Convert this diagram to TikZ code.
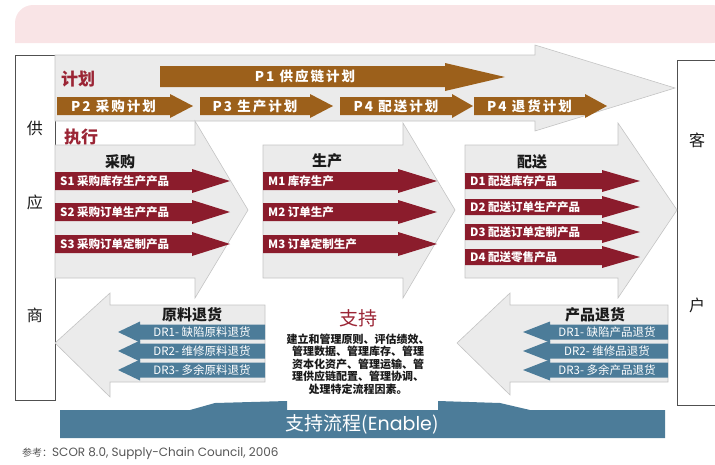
\documentclass[tikz,border=0pt]{standalone}
\usepackage{fontspec}
\setmainfont{Noto Sans CJK SC}
\newfontfamily\latinfont{Poppins}
\usepackage{xcolor}
\definecolor{scorPink}{HTML}{F9E4E6}
\definecolor{scorGray}{HTML}{EBEBEB}
\definecolor{scorEdge}{HTML}{C4C4C4}
\definecolor{scorFrame}{HTML}{505050}
\definecolor{scorBrown}{HTML}{9C601B}
\definecolor{scorRed}{HTML}{8B1C2C}
\definecolor{scorBlue}{HTML}{4C7C99}
\definecolor{scorTitle}{HTML}{9B2535}
\definecolor{scorDark}{HTML}{1A1A1A}
\definecolor{scorNote}{HTML}{555555}
\usepackage{tikz}

\begin{document}
\begin{tikzpicture}[x=1pt, y=-1pt,
  grayarrow/.style={fill=scorGray, draw=scorEdge, line width=0.6pt},
  planarrow/.style={fill=scorBrown},
  execarrow/.style={fill=scorRed},
  returnarrow/.style={fill=scorBlue},
  sidebox/.style={draw=scorFrame, line width=0.8pt, fill=white},
  sidechar/.style={font=\fontsize{16}{16}\selectfont, text=scorDark},
  plantext/.style={text=white, inner sep=0pt,
    font=\bfseries\fontsize{13.5}{13.5}\selectfont\addfontfeatures{LetterSpace=15}},
  steptext/.style={text=white, anchor=west, inner sep=0pt,
    font=\bfseries\fontsize{11.5}{11.5}\selectfont},
  returntext/.style={text=white, inner sep=0pt, font=\fontsize{11.5}{11.5}\selectfont},
  header/.style={font=\bfseries\fontsize{15}{15}\selectfont, text=scorDark},
  rowtitle/.style={font=\bfseries\fontsize{17}{17}\selectfont, text=scorTitle}
]
  \useasboundingbox (0,0) rectangle (715,464);

  % Band on top
  \fill[scorPink, rounded corners=18pt] (15,43) -- (15,5) -- (730,5) -- (730,43) [sharp corners] -- cycle;

  % Supplier and customer
  \draw[sidebox] (15,55) rectangle (55,400);
  \draw[sidebox] (677,60) rectangle (730,405);
  \node[sidechar] (sup1) at (35,128) {供};
  \node[sidechar] (sup2) at (35,202) {应};
  \node[sidechar] (sup3) at (35,315) {商};
  \node[sidechar] (cus1) at (697,140) {客};
  \node[sidechar] (cus2) at (697,305) {户};

  % Plan
  \filldraw[grayarrow] (55,55) -- (535,55) -- (535,45) -- (675,88) -- (535,131) -- (535,121) -- (55,121) -- cycle;
  \node[rowtitle] (plan) at (78,79) {计划};
  \fill[planarrow] (160,66) -- (445,66) -- (445,63) -- (505,77) -- (445,91) -- (445,87) -- (160,87) -- cycle;
  \node[plantext] (p1) at (305,76.5) {P1 供应链计划};
  \foreach \i/\xa/\xb/\xt/\txt in {2/57/170/193/P2 采购计划, 3/200/310/333/P3 生产计划,
      4/340/452/473/P4 配送计划, 5/474/585/607/P4 退货计划} {
    \fill[planarrow] (\xa,97) -- (\xb,97) -- (\xb,94) -- (\xt,106) -- (\xb,118) -- (\xb,115) -- (\xa,115) -- cycle;
    \node[plantext] (p\i) at ({(\xa+\xb)/2},106) {\txt};
  }

  % Execute
  \node[rowtitle] (exec) at (81,137) {执行};
  \filldraw[grayarrow] (55,145) -- (195,145) -- (195,121) -- (248,210) -- (195,298) -- (195,278) -- (55,278) -- cycle;
  \filldraw[grayarrow] (263,145) -- (403,145) -- (403,123) -- (455,210) -- (403,298) -- (403,278) -- (263,278) -- cycle;
  \filldraw[grayarrow] (465,145) -- (618,145) -- (618,123) -- (677,210) -- (618,298) -- (618,278) -- (465,278) -- cycle;
  \node[header] (source) at (120,162) {采购};
  \node[header] (make) at (327,161) {生产};
  \node[header] (deliver) at (532,162) {配送};
  \foreach \i/\y/\txt in {1/181/S1 采购库存生产产品, 2/212/S2 采购订单生产产品, 3/244/S3 采购订单定制产品} {
    \fill[execarrow] (55,\y-9) -- (192,\y-9) -- (192,\y-12) -- (230,\y) -- (192,\y+12) -- (192,\y+9) -- (55,\y+9) -- cycle;
    \node[steptext] (s\i) at (60,\y) {\txt};
  }
  \foreach \i/\y/\txt in {1/181/M1 库存生产, 2/212/M2 订单生产, 3/244/M3 订单定制生产} {
    \fill[execarrow] (263,\y-9) -- (398,\y-9) -- (398,\y-12) -- (437,\y) -- (398,\y+12) -- (398,\y+9) -- (263,\y+9) -- cycle;
    \node[steptext] (m\i) at (268,\y) {\txt};
  }
  \foreach \i/\y/\txt in {1/181/D1 配送库存产品, 2/207/D2 配送订单生产产品, 3/232/D3 配送订单定制产品, 4/257/D4 配送零售产品} {
    \fill[execarrow] (465,\y-8) -- (602,\y-8) -- (602,\y-11) -- (640,\y) -- (602,\y+11) -- (602,\y+8) -- (465,\y+8) -- cycle;
    \node[steptext] (d\i) at (470,\y) {\txt};
  }

  % Return
  \filldraw[grayarrow] (265,305) -- (110,305) -- (110,293) -- (55,343) -- (110,397) -- (110,382) -- (265,382) -- cycle;
  \filldraw[grayarrow] (668,305) -- (510,305) -- (510,293) -- (457,343) -- (510,395) -- (510,382) -- (668,382) -- cycle;
  \node[header] (srcreturn) at (192,315) {原料退货};
  \node[header] (delreturn) at (595,315) {产品退货};
  \foreach \i/\y/\txt in {1/332/DR1- 缺陷原料退货, 2/351/DR2- 维修原料退货, 3/370/DR3- 多余原料退货} {
    \fill[returnarrow] (265,\y-7.5) -- (140,\y-7.5) -- (140,\y-10.5) -- (118,\y) -- (140,\y+10.5) -- (140,\y+7.5) -- (265,\y+7.5) -- cycle;
    \node[returntext] (sr\i) at (202,\y) {\txt};
  }
  \foreach \i/\y/\txt in {1/332/DR1- 缺陷产品退货, 2/351/DR2- 维修品退货, 3/370/DR3- 多余产品退货} {
    \fill[returnarrow] (668,\y-7.5) -- (550,\y-7.5) -- (550,\y-10.5) -- (523,\y) -- (550,\y+10.5) -- (550,\y+7.5) -- (668,\y+7.5) -- cycle;
    \node[returntext] (dr\i) at (607,\y) {\txt};
  }

  % Enable
  \node[rowtitle, font=\fontsize{19}{19}\selectfont] (enable) at (358,318) {支持};
  \node[align=center, inner sep=0pt, text=scorDark, font=\bfseries\fontsize{11}{12.5}\selectfont] (enabletext) at (358,364)
    {建立和管理原则、评估绩效、\\管理数据、管理库存、管理\\资本化资产、管理运输、管\\理供应链配置、管理协调、\\处理特定流程因素。};
  \fill[scorBlue] (60,438) -- (60,410) -- (190,410) -- (215,403) -- (287,401) -- (287,410) -- (438,410)
    -- (438,401) -- (500,403) -- (530,410) -- (665,410) -- (665,438) -- cycle;
  \node[text=white, font=\fontsize{19}{19}\selectfont] (enablebar) at (362,424) {支持流程({\latinfont Enable})};

  % Reference
  \node[anchor=west, inner sep=0pt, text=scorNote, font=\fontsize{10}{10}\selectfont] (note) at (22,453)
    {参考：{\latinfont\fontsize{12}{12}\selectfont SCOR 8.0, Supply-Chain Council, 2006}};
\end{tikzpicture}
\end{document}
